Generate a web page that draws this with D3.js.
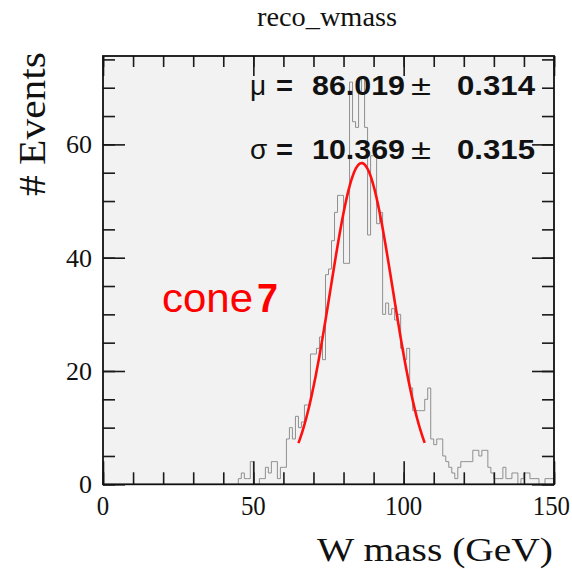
<!DOCTYPE html>
<html>
<head>
<meta charset="utf-8">
<script src="https://cdn.jsdelivr.net/npm/d3@7"></script>
<style>
  html, body { margin: 0; padding: 0; background: #ffffff; }
  svg { display: block; }
</style>
</head>
<body>
<svg id="chart" width="572" height="569"></svg>
<script>
// ---- histogram content: reconstructed W mass, 1 GeV bins ----
const histTitle = "reco_wmass";
const xAxisTitle = "W mass (GeV)";
const yAxisTitle = "# Events";
const xTickLabels = [0, 50, 100, 150];
const yTickLabels = [0, 20, 40, 60];
const firstBinLow = 45;   // lower edge of the first filled bin (GeV)
const binWidth = 1;       // GeV
const binCounts = [
  1, 2, 1, 1, 4, 0, 0, 1, 1, 3,          // 45-54
  2, 4, 4, 1, 3, 3, 8, 10, 8, 12,        // 55-64
  10, 11, 14, 14, 23, 23, 24, 26, 22, 37, // 65-74
  38, 43, 48, 51, 51, 39, 39, 71, 64, 63, // 75-84
  69, 72, 63, 44, 58, 58, 46, 48, 30, 32, // 85-94
  30, 31, 29, 30, 24, 22, 24, 17, 13, 13, // 95-104
  13, 13, 15, 17, 8, 7, 8, 8, 5, 4,      // 105-114
  3, 2, 1, 3, 4, 4, 4, 4, 6, 6,          // 115-124
  5, 6, 6, 3, 2, 1, 1, 1, 3, 1,          // 125-134
  1, 2, 2, 0, 1, 2, 2, 1, 1, 1,          // 135-144
  0, 0, 1, 1, 1                          // 145-149
];

// Gaussian fit result
const fitMean = 86.019, fitMeanErr = 0.314;
const fitSigma = 10.369, fitSigmaErr = 0.315;
const fitConstant = 56.7;
const fitRange = [65, 107];
const jetTag = ["cone", "7"];

// ---- frame and scales ----
const svg = d3.select("#chart");
const frame = { left: 103, right: 554, top: 56, bottom: 484.3 };
const x = d3.scaleLinear().domain([0, 150]).range([frame.left, frame.right]);
const yMax = d3.max(binCounts) * 1.05;
const y = d3.scaleLinear().domain([0, yMax]).range([frame.bottom, frame.top]);

svg.append("rect")
  .attr("x", frame.left).attr("y", frame.top)
  .attr("width", frame.right - frame.left)
  .attr("height", frame.bottom - frame.top)
  .attr("fill", "#f2f2f2");

// ---- histogram outline (step line) ----
const bins = binCounts.map((c, i) => ({
  lo: firstBinLow + i * binWidth,
  hi: firstBinLow + (i + 1) * binWidth,
  n: c
}));
let pts = [[x(bins[0].lo), y(0)]];
bins.forEach(b => {
  pts.push([x(b.lo), y(b.n)]);
  pts.push([x(b.hi), y(b.n)]);
});
pts.push([x(bins[bins.length - 1].hi), y(0)]);
svg.append("path")
  .attr("d", d3.line()(pts))
  .attr("fill", "none")
  .attr("stroke", "#8f8f8f")
  .attr("stroke-width", 1);

// ---- fitted gaussian ----
const gauss = m => fitConstant * Math.exp(-0.5 * Math.pow((m - fitMean) / fitSigma, 2));
const fitPts = d3.range(0, 201).map(k => {
  const m = fitRange[0] + (fitRange[1] - fitRange[0]) * k / 200;
  return [x(m), y(gauss(m))];
});
svg.append("path")
  .attr("d", d3.line().curve(d3.curveLinear)(fitPts))
  .attr("fill", "none")
  .attr("stroke", "#ff1010")
  .attr("stroke-width", 2.6);

// ---- axes: ticks on all four sides, pointing inward ----
function ticks(axisGen, tx, ty) {
  const g = svg.append("g").attr("transform", `translate(${tx},${ty})`).call(axisGen);
  g.select(".domain").remove();
  g.selectAll("text").remove();
  g.selectAll("line").attr("stroke", "#1a1a1a").attr("stroke-width", 1.6);
}
const xMinor = d3.range(0, 151, 10), xMajor = d3.range(0, 151, 50);
const yMinor = d3.range(0, yMax, 5), yMajor = d3.range(0, yMax, 20);
ticks(d3.axisBottom(x).tickValues(xMinor).tickSize(-12), 0, frame.bottom);
ticks(d3.axisBottom(x).tickValues(xMajor).tickSize(-23), 0, frame.bottom);
ticks(d3.axisTop(x).tickValues(xMinor).tickSize(-11), 0, frame.top);
ticks(d3.axisTop(x).tickValues(xMajor).tickSize(-20), 0, frame.top);
ticks(d3.axisLeft(y).tickValues(yMinor).tickSize(-12), frame.left, 0);
ticks(d3.axisLeft(y).tickValues(yMajor).tickSize(-22), frame.left, 0);
ticks(d3.axisRight(y).tickValues(yMinor).tickSize(-12), frame.right, 0);
ticks(d3.axisRight(y).tickValues(yMajor).tickSize(-22), frame.right, 0);

svg.append("rect")
  .attr("x", frame.left).attr("y", frame.top)
  .attr("width", frame.right - frame.left)
  .attr("height", frame.bottom - frame.top)
  .attr("fill", "none")
  .attr("stroke", "#111")
  .attr("stroke-width", 1.8);

// ---- tick labels ----
const serif = "'Liberation Serif', 'Times New Roman', serif";
const sans = "'Liberation Sans', Arial, Helvetica, sans-serif";
const digitW = 12.4;

svg.append("g").selectAll("text").data(xTickLabels).join("text")
  .attr("x", d => Math.min(x(d), 570 - String(d).length * digitW / 2))
  .attr("y", frame.bottom + 31)
  .attr("text-anchor", "middle")
  .attr("font-family", serif).attr("font-size", 27)
  .attr("textLength", d => String(d).length * digitW)
  .attr("lengthAdjust", "spacingAndGlyphs")
  .attr("fill", "#111")
  .text(d => d);

svg.append("g").selectAll("text").data(yTickLabels).join("text")
  .attr("x", frame.left - 11).attr("y", d => y(d) + 9)
  .attr("text-anchor", "end")
  .attr("font-family", serif).attr("font-size", 26)
  .attr("fill", "#111")
  .text(d => d);

// ---- titles ----
svg.append("text")
  .attr("x", 327).attr("y", 26)
  .attr("text-anchor", "middle")
  .attr("font-family", serif).attr("font-size", 28)
  .attr("textLength", 140).attr("lengthAdjust", "spacingAndGlyphs")
  .attr("fill", "#111")
  .text(histTitle);

svg.append("text")
  .attr("x", 553).attr("y", 561)
  .attr("text-anchor", "end")
  .attr("font-family", serif).attr("font-size", 34)
  .attr("textLength", 236).attr("lengthAdjust", "spacingAndGlyphs")
  .attr("fill", "#111")
  .text(xAxisTitle);

svg.append("text")
  .attr("transform", "translate(45,52) rotate(-90)")
  .attr("text-anchor", "end")
  .attr("font-family", serif).attr("font-size", 38)
  .attr("textLength", 144).attr("lengthAdjust", "spacingAndGlyphs")
  .attr("fill", "#111")
  .text(yAxisTitle);

// ---- fit parameters ----
function statLine(sym, val, err, base) {
  const g = svg.append("g").attr("fill", "#111").attr("font-family", sans);
  g.append("text").attr("x", 250).attr("y", base)
    .attr("font-size", 28).text(sym);
  g.append("text").attr("x", 276).attr("y", base)
    .attr("font-size", 27).attr("font-weight", "bold")
    .attr("textLength", 17).attr("lengthAdjust", "spacingAndGlyphs").text("=");
  g.append("text").attr("x", 312).attr("y", base)
    .attr("font-size", 27).attr("font-weight", "bold")
    .attr("textLength", 93).attr("lengthAdjust", "spacingAndGlyphs")
    .text(val.toFixed(3));
  g.append("text").attr("x", 411).attr("y", base)
    .attr("font-size", 27)
    .attr("textLength", 20).attr("lengthAdjust", "spacingAndGlyphs").text("±");
  g.append("text").attr("x", 457).attr("y", base)
    .attr("font-size", 27).attr("font-weight", "bold")
    .attr("textLength", 78).attr("lengthAdjust", "spacingAndGlyphs")
    .text(err.toFixed(3));
}
statLine("μ", fitMean, fitMeanErr, 95);
statLine("σ", fitSigma, fitSigmaErr, 159);

// ---- jet algorithm tag ----
const tagText = svg.append("text")
  .attr("y", 311.5)
  .attr("font-family", sans).attr("font-size", 41)
  .attr("fill", "#ff0000");
tagText.append("tspan").attr("x", 162)
  .attr("textLength", 91).attr("lengthAdjust", "spacingAndGlyphs")
  .text(jetTag[0]);
tagText.append("tspan").attr("x", 257).attr("font-weight", "bold")
  .attr("textLength", 21).attr("lengthAdjust", "spacingAndGlyphs")
  .text(jetTag[1]);
</script>
</body>
</html>
